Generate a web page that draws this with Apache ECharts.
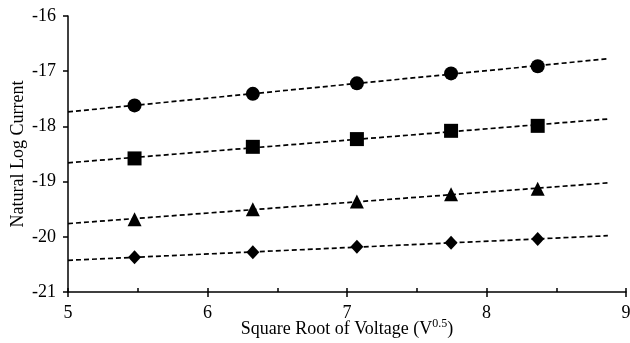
<!DOCTYPE html>
<html>
<head>
<meta charset="utf-8">
<script src="https://cdn.jsdelivr.net/npm/echarts@6/dist/echarts.min.js"></script>
<style>
  html, body { margin: 0; padding: 0; background: #fff; }
  #chart { width: 630px; height: 343px; }
</style>
</head>
<body>
<div id="chart"></div>
<script>
// Square root of the applied voltage (V^0.5)
const sqrtVoltage = [5.477, 6.325, 7.071, 7.746, 8.367];

// Natural log of current for the four data sets
const circleSeries   = [-17.62, -17.41, -17.22, -17.04, -16.91];
const squareSeries   = [-18.58, -18.37, -18.23, -18.08, -17.99];
const triangleSeries = [-19.68, -19.50, -19.36, -19.23, -19.13];
const diamondSeries  = [-20.37, -20.28, -20.18, -20.11, -20.04];

// Range covered by the fitted trend lines
const trendRange = [5, 8.87];

const xTicks = [5, 6, 7, 8, 9];
const yTicks = [-21, -20, -19, -18, -17, -16];

const FONT = '"Liberation Serif", "Times New Roman", serif';

function pairs(ys) {
  return sqrtVoltage.map((x, i) => [x, ys[i]]);
}

// Least-squares line through a data set, evaluated at the ends of trendRange
function trendLine(ys) {
  const n = ys.length;
  const mx = sqrtVoltage.reduce((a, b) => a + b, 0) / n;
  const my = ys.reduce((a, b) => a + b, 0) / n;
  let sxy = 0, sxx = 0;
  for (let i = 0; i < n; i++) {
    sxy += (sqrtVoltage[i] - mx) * (ys[i] - my);
    sxx += (sqrtVoltage[i] - mx) * (sqrtVoltage[i] - mx);
  }
  const slope = sxy / sxx;
  return trendRange.map(x => [x, my + slope * (x - mx)]);
}

const sets = [
  { data: circleSeries,   symbol: 'circle',   size: 14 },
  { data: squareSeries,   symbol: 'rect',     size: 14 },
  { data: triangleSeries, symbol: 'triangle', size: 14 },
  { data: diamondSeries,  symbol: 'diamond',  size: [13, 14] }
];

const series = [];
sets.forEach(s => {
  series.push({
    type: 'line',
    data: trendLine(s.data),
    showSymbol: false,
    symbol: 'none',
    silent: true,
    z: 1,
    lineStyle: { color: '#000', width: 1.7, type: [5, 3] }
  });
  series.push({
    type: 'scatter',
    data: pairs(s.data),
    symbol: s.symbol,
    symbolSize: s.size,
    z: 3,
    itemStyle: { color: '#000', opacity: 1 }
  });
});

const chart = echarts.init(document.getElementById('chart'), null, { renderer: 'canvas' });
chart.setOption({
  animation: false,
  backgroundColor: '#fff',
  grid: { left: 68, right: 4, top: 16, bottom: 51, containLabel: false, outerBoundsMode: 'none' },
  xAxis: [
    {
      type: 'value',
      min: xTicks[0],
      max: xTicks[xTicks.length - 1],
      interval: 1,
      name: '{t|Square Root of Voltage (V}{s|0.5}{t|)}',
      nameLocation: 'middle',
      nameGap: 26,
      nameMoveOverlap: false,
      nameTextStyle: {
        rich: {
          t: { fontFamily: FONT, fontSize: 18, color: '#000', verticalAlign: 'bottom', lineHeight: 20 },
          s: { fontFamily: FONT, fontSize: 12, color: '#000', verticalAlign: 'top', padding: [0, 0, 7, 0], lineHeight: 20 }
        }
      },
      axisLine: { show: true, lineStyle: { color: '#000', width: 1.5 } },
      axisTick: { show: true, length: 5, lineStyle: { color: '#000', width: 1.5 } },
      axisLabel: { fontFamily: FONT, fontSize: 18, color: '#000', margin: 12 },
      splitLine: { show: false }
    },
    {
      // Inner ticks every half unit on the same baseline
      type: 'value',
      position: 'bottom',
      min: xTicks[0],
      max: xTicks[xTicks.length - 1],
      interval: 0.5,
      axisLine: { show: false },
      axisTick: { show: true, inside: true, length: 4, lineStyle: { color: '#000', width: 1.5 } },
      axisLabel: { show: false },
      splitLine: { show: false }
    }
  ],
  yAxis: {
    type: 'value',
    min: yTicks[0],
    max: yTicks[yTicks.length - 1],
    interval: 1,
    name: 'Natural Log Current',
    nameLocation: 'middle',
    nameGap: 41,
    nameMoveOverlap: false,
    nameTextStyle: { fontFamily: FONT, fontSize: 18, color: '#000' },
    axisLine: { show: true, lineStyle: { color: '#000', width: 1.5 } },
    axisTick: { show: true, length: 5, lineStyle: { color: '#000', width: 1.5 } },
    axisLabel: { fontFamily: FONT, fontSize: 18, color: '#000', margin: 12 },
    splitLine: { show: false }
  },
  series: series
});
</script>
</body>
</html>
